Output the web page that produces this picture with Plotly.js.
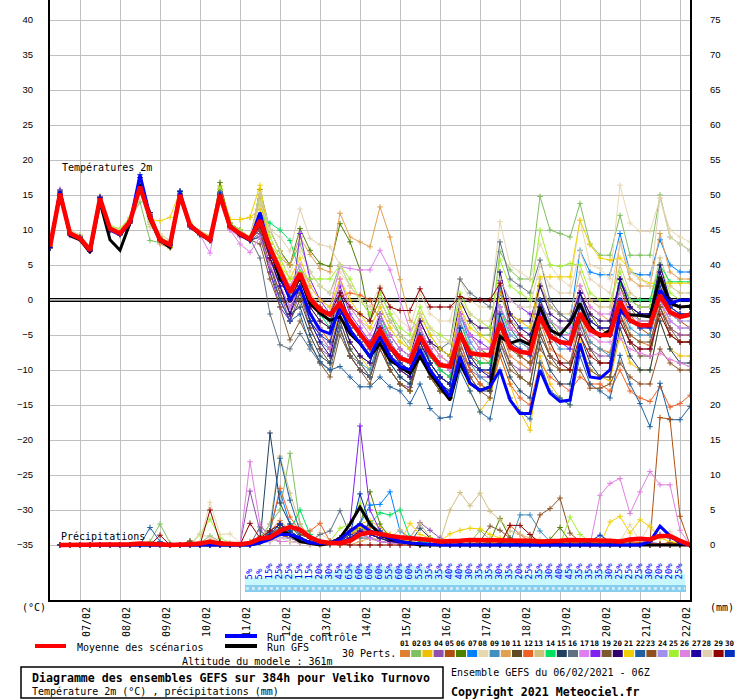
<!DOCTYPE html>
<html><head><meta charset="utf-8">
<script src="https://cdn.plot.ly/plotly-3.0.1.min.js"></script>
<style>body{margin:0;background:#fff}#chart{width:740px;height:700px}</style>
</head><body><div id="chart"></div>
<script>
// ---------- DATA ----------
const hours = [0,6,12,18,24,30,36,42,48,54,60,66,72,78,84,90,96,102,108,114,120,126,132,138,144,150,156,162,168,174,180,186,192,198,204,210,216,222,228,234,240,246,252,258,264,270,276,282,288,294,300,306,312,318,324,330,336,342,348,354,360,366,372,378,384];
const dateTicks = [18,42,66,90,114,138,162,186,210,234,258,282,306,330,354,378];
const dateLabels = ['07/02','08/02','09/02','10/02','11/02','12/02','13/02','14/02','15/02','16/02','17/02','18/02','19/02','20/02','21/02','22/02'];
const tempTicks = [-35,-30,-25,-20,-15,-10,-5,0,5,10,15,20,25,30,35,40];
const precipTicks = [0,5,10,15,20,25,30,35,40,45,50,55,60,65,70,75];
const probHours = [120,126,132,138,144,150,156,162,168,174,180,186,192,198,204,210,216,222,228,234,240,246,252,258,264,270,276,282,288,294,300,306,312,318,324,330,336,342,348,354,360,366,372,378];
const probValues = [5,5,15,25,25,15,15,20,30,45,65,60,60,60,55,60,60,55,35,35,40,40,30,35,35,30,35,20,25,35,30,40,45,35,35,35,30,25,25,25,30,20,20,25];
const memberNames = ['01','02','03','04','05','06','07','08','09','10','11','12','13','14','15','16','17','18','19','20','21','22','23','24','25','26','27','28','29','30'];
const memberColors = ['#e08030','#80c060','#f0c000','#9050b0','#b05010','#508000','#0080ff','#e8d8b0','#4090c0','#e0a050','#604c20','#f06020','#d0c080','#00e060','#204060','#607080','#e080f0','#8020f0','#805830','#300070','#f0d000','#2060a0','#905020','#a090f0','#a0f030','#e080e0','#2000a0','#e0d0b0','#900000','#0030c0'];

// Temperatures 2m (°C)
const tMean = [7.6, 15.2,9.5,8.8,7.1, 14.5,10.2,9.5,11.2, 16.2,11.9,8.6,7.9, 15,10.7,9.5,8.6, 15,10.5,9.5,8.7, 11.4,7.4,4.3,1.1, 3.8,0.2,-1.4,-2.1, -0.5,-2.9,-4.8,-6.7, -4.3,-6.7,-8.3,-8.8, -5.2,-7.6,-9.3,-9.5, -4.8,-7.6,-7.8,-7.9, -3.3,-6.7,-7.4,-7.6, -2.4,-5.2,-6,-6.2, -1.9,-4.3,-5,-5, -0.2,-2.9,-3.6,-3.6, 0.7,-1.7,-2.4,-2.1];
const tControl = [7.5, 15.5,9.3,8.8,7, 14.6,10,9.3,11, 17.9,12,8.5,7.8, 15.4,10.5,9.5,8.5, 15,10.5,9.4,8.5, 12.5,7,4,0, 1.9,-1.9,-4.3,-4.8, -1,-4.3,-6.2,-8.1, -5.2,-8.1,-9.5,-10, -7.1,-10,-11.9,-13.8, -8.1,-11.9,-12.9,-12.4, -10,-14.3,-16.2,-16.2, -10,-13.3,-14.5,-14.3, -6.2,-11,-11.2,-10, -1.4,-2.9,-3.6,-3.8, 1.4,-0.5,0,0];
const tGFS = [7.5, 15.5,9.2,8.6,6.8, 14,8.6,7.1,11, 16.5,11.5,8.5,7.5, 15,10.5,9.4,8.5, 15,10.5,9.3,8.5, 11.5,7.5,3,1.4, 3.3,-0.5,-1.9,-2.9, -2.4,-4.8,-6.2,-8.1, -6.2,-8.6,-9.5,-10.5, -8.1,-10.5,-12.4,-14.3, -9,-11.9,-12.9,-12.4, -5.2,-6.2,-5.7,-6.4, -1,-4.3,-5,-3.3, -0.5,-3.8,-5.2,-4.3, -1.4,-2.1,-2.2,-2.4, 3.3,-0.5,-1,-0.9];
const T01 = [7.5, 15,9.8,9,7.3, 14,10,9.2,11, 16.5,11.5,8.2,7.6, 14.8,10.9,9.6,8.4, 15.2,10.4,9.1,8.8, 11.5,7,3.5,0.5, 3,-1,-3,-4, -1,-4,-6,-8, -5,-8,-10,-11, -6,-9,-11,-12, -5,-9,-10,-10.5, -4,-8,-9,-10, -3,-7,-8,-9, -2,-6,-7,-7.5, -1,-5,-6,-6.5, 0,-4,-5,-5];
const T02 = [7.8, 15.5,9.6,8.6,7, 14.8,10.5,9.8,11.5, 14,8.5,8.2,8.5, 15.3,10.4,9.2,8.9, 15.5,11,10,9, 14.5,10,7,5, 8,4,2,1, 5,2,0,-2, 1,-2,-5,-7, -2,-5,-7,-8, 0,-3,-5,-5, 6.9,4.3,3,3, 14.8,10,9.5,9, 13.8,8,6.4,6.4, 12.1,6.4,6.4,6.4, 15,9,8,7.1];
const T03 = [7.6, 15,9.3,9,7.2, 14.6,10.3,9.7,11.8, 16,12,9,8.2, 15.5,11,9.8,9.2, 16.3,11.5,11.5,11.8, 13,6,3,1, 2,-2,-4,-6, -2,-6,-8,-10, -6,-10,-12,-13, -7,-11,-13,-14, -8,-13,-15.9,-14, -8,-12,-16,-18.6, -8,-12,-14,-15, -6,-10,-11,-11.5, -5,-9,-10,-10, -3,-7,-8,-8];
const T04 = [7.7, 15.8,9.2,8.9,7, 14.2,9.8,9.4,11, 16,12.3,8.6,7.8, 14.9,10.4,9.3,8.5, 15.1,10.2,9.3,8.5, 9.5,5,1,-3, 1,-4,-7,-8, -4,-8,-10,-11, -7,-10,-12,-12.5, -8,-11,-12,-13, -7,-10,-11,-11, -6,-9,-10,-10, -5,-8,-9,-9, -4,-7,-8,-8, -3,-6,-7,-7, -1,-4,-5,-5];
const T05 = [7.4, 15,9.7,9.1,7.4, 14.4,10,9.4,11.3, 16.2,12,8.4,7.5, 15,10.6,9.4,8.6, 14.9,10.5,9.6,8.5, 12,7,4,1, 3,0,-2,-3, 0,-3,-5,-6, -3,-6,-8,-9, -4,-7,-9,-10, -4,-8,-9,-9, -2,-6,-8,-9, 0,-4,-6,-6, 1,-3,-4,-5, 2,-2,-4,-5, 3,-2,-3,-4];
const T06 = [7.6, 15.2,9.5,8.7,7, 14.5,10.2,9.6,11.2, 17,12.5,9,8, 15.2,10.8,9.5,8.7, 16.8,11,10,8.5, 15.8,10,7,5, 10.2,7.1,5.2,4.8, 10.9,8.3,4.3,-3, 0,-3,-5,-6, -3,-6,-8,-9, -2,-5,-7,-8, -1,-4,-6,-7, 0,-3,-5,-5, 1,-2,-4,-4, 2,-1,-3,-3, 3,-1,-2,-2];
const T07 = [7.5, 15.3,9.4,8.8,7.1, 14.7,10.1,9.3,11.1, 16.4,11.8,8.5,7.8, 15.1,10.6,9.5,8.5, 15,10.7,9.4,8.6, 12,8,4,1, 4,0,-2,-3, 1,-3,-5,-7, -3,-7,-9,-10, -4,-8,-10,-11, -2,-6,-8,-8, 1,-3,-4,-4, 2,-1,-2,-3, 7.1,4,3.6,3.6, 9.5,4,3.6,3.6, 8.6,5,4,4];
const T08 = [7.7, 15,9.8,9.2,7.5, 14.3,10.4,9.9,11.6, 15.8,10.4,9.5,8.5, 15,10.8,9.7,8.9, 15.2,10.6,9.7,9, 15.5,10,7,4, 7,4,2,1, 4,2,0,-1, 2,-1,-3,-4, 1,-2,-3,-3, 3,0,-1,-1, 11.2,5,4,3, 8,5,3,2, 11.4,5,4.5,3, 16.4,11,9.8,9.8, 14.5,10,9,8.3];
const T09 = [7.5, 14.8,9.6,9.1,7.2, 14.4,10.1,9.6,11.3, 16.1,11.9,8.7,8, 15.3,10.5,9.3,8.7, 14.6,10.4,9.5,8.8, 10.5,6,2,-1, 1,-3,-6,-7, -3,-7,-9,-10, -5,-9,-11,-12, -6,-10,-12,-13, -5,-9,-11,-12, 2,-4,-6,-7, -2,-5,-7,-7, -3,-6,-7,-8, -1,-4,-5,-5, 0,-3,-4,-4];
const T10 = [7.8, 15.5,9.7,9,7.2, 14.7,10.3,9.6,11.2, 16,11.2,8,7.4, 15,10.8,9.6,8.6, 14.8,10.3,9.3,8.7, 14,8,6,5, 9,6.5,4.5,4, 12.4,9,8.3,7.6, 13.3,9,2.9,-2.9, -4,-8,-10,-11, -3,-7,-8,-9, -2,-4,-5,-6, 2,-1,-2,-3, 2,-1,-2,-3, 8.3,3,2,2, 9.5,4,3,3];
const T11 = [7.6, 15.1,9.4,8.9,7, 14.6,10,9.5,11, 16.3,12.2,8.8,8, 14.7,10.7,9.6,8.8, 15.3,10.8,9.4,8.5, 9,4,0,-3, 0,-4,-7,-9, -3,-7,-9,-11, -6,-10,-12,-13, -7,-11,-13,-14, -6,-10,-12,-13, -5,-9,-11,-12, -4,-8,-10,-10, -3,-7,-9,-9, -2,-6,-8,-8, -1,-5,-6,-6];
const T12 = [7.5, 15.1,9.8,9.2,7.3, 14.5,10.2,9.5,11.4, 16.1,11.7,8.5,7.9, 15.2,10.6,9.4,8.6, 15,10.5,9.6,8.7, 11,6,2,-1, 2,-2,-4,-6, 0.5,1,0.7,0, -3,-7,-9,-10, -5,-9,-11,-12, -6,-10,-12,-13, -8,-12,-14,-15, -9,-11,-12,-13, -11,-12,-12,-13, -10,-13,-14,-14.5, -12.4,-15.3,-14.8,-13.6];
const T13 = [7.9, 15.4,10,9.3,7.6, 14.2,10.4,10,11.8, 15.5,10.8,8.6,7.7, 15.2,11,9.7,8.9, 15.4,10.8,9.8,9, 15,8,5,2, 5,1,-1,-2, 3,-1,-3,-4, -1,-4,-6,-7, -3,-6,-8,-9, -1,-5,-7,-7, 1,-3,-4,-5, 3,-1,-2,-2, 4,0,-1,-1, 5,1,0,0, 6,2,1,1];
const T14 = [7.6, 15,9.5,8.9,7.1, 14.4,10.2,9.6,11.3, 16,11.6,8.5,7.7, 15.1,10.6,9.4,8.6, 15.8,10.4,9.3,8.5, 12,11,10,8.5, 4,0,-2,-4, 0,-4,-6,-8, -2,-6,-8,-9, -5,-8,-10,-11, -3,-7,-9,-9, -1,-5,-6,-7, 0,-3,-4,-5, 0,-3,-4,-4, 2.4,0,0,0, 5,2.6,2.6,2.6];
const T15 = [7.5, 15.2,9.6,9,7.2, 14.6,10.1,9.5,11.2, 16.2,11.9,8.6,7.9, 15,10.7,9.5,8.6, 15.1,10.6,9.5,8.7, 10,6,2,-2, -1,-5,-8,-9, -4,-8,-10,-11, -6,-9,-11,-12, -7,-10,-12,-13, -8,-11,-13,-13, -7,-11,-13,-14, -6,-10,-12,-12, -5,-9,-11,-11, -4,-8,-10,-10, -3,-7,-9,-9];
const T16 = [7.7, 15.4,9.5,8.9,7.2, 14.5,10.2,9.6,11.1, 16.1,11.8,8.6,7.8, 15.2,10.5,9.4,8.6, 14.7,10.6,9.6,8.8, 6,-2,-6.4,-7, -4.8,-7,-9,-10, -4,-8,-9,-11, -5,-8,-9,-10, -3,-6,-7,-6, 3,1,0,-1, 8.3,3,2,1, 5.7,0,-2,-3, 1,-3,-4,-4, 3,-1,-2,-2, 4,0,-1,-1];
const T17 = [7.6, 15,9.4,8.8,7, 14.8,10.5,9.8,11.5, 16.3,12,8.7,7.9, 14.6,10.4,9.3,6.7, 14.5,10,9,8.6, 11,7,4,2, 5,2,0,-1, 4.8,4.5,4.3,4.3, 7.1,4.3,0,-4.3, -3,-6,-8,-9, -2,-5,-7,-7, -1,-4,-5,-6, 0,-3,-4,-4, 2,-1,-2,-2, 1,-2,-3,-3, 0,-3,-4,-4];
const T18 = [7.5, 15.1,9.5,8.9,7.1, 14.6,10.1,9.5,11.3, 16.2,11.9,8.6,7.8, 15,10.7,9.5,8.6, 15.2,10.8,9.7,8.8, 10,4,-1,-3, 9.5,3,0,-2, 2,-2,-4,-6, -3,-6,-8,-9, -4,-7,-9,-10, -2,-5,-6,-7, 2.8,0,-1,-2, -2,-5,-6,-7, -1,-4,-5,-5, 3,0,-1,-1, 1,-1,-2,-2];
const T19 = [7.6, 15.2,9.6,9,7.3, 14.4,10,9.4,11.1, 16,11.8,8.5,7.8, 15.1,10.6,9.4,8.6, 15,10.5,9.4,8.6, 8,3,-1,-5.7, -3,-6,-9,-11, -5,-8,-10,-12, -7,-10,-12,-13, -8,-11,-13,-14, -7,-11,-13,-14, -6,-10,-11,-12, -5,-8,-9,-9, -7,-10,-11,-11, -2,-5,-6,-6, -1,-4,-6,-6];
const T20 = [7.5, 15,9.5,8.9,7.1, 14.5,10.1,9.5,11.2, 16.1,11.8,8.6,7.9, 15,10.6,9.5,8.6, 15,10.6,9.5,8.7, 11,7,3,0, 3,-1,-3,-4, 1,-3,-5,-7, -2,-5,-7,-8, -3,-6,-7,-8, 0,-3,-4,-4, 1,-2,-3,-3, 2,-2,-3,-3, 1,-2,-3,-3, 2.9,-1,-2,-2, 4,0,-1,-1];
const T21 = [7.7, 15.3,9.7,9.1,7.4, 14.6,10.5,10,11.7, 15.4,11.5,11.3,11.8, 15.5,10.9,9.6,8.8, 15.8,11.5,11.5,11.8, 16.4,8,5,3, 6,2,0,-1, 3,0,-2,-4, -1,-4,-6,-7, -2,-5,-7,-8, -1,-4,-5,-6, 1,-2,-3,-4, 3.3,3.3,3.3,3.3, 11.4,7.9,6,5.7, 6,4.3,3,2.4, 2.4,2.4,2.4,2.4];
const T22 = [7.4, 15,9.6,9.1,7.2, 14.5,10,9.4,11.2, 16.2,11.9,8.6,7.9, 15.2,10.8,9.6,8.6, 14.8,10.4,9.3,8.6, 9,5,0,-3, -2,-6.4,-8.8,-10, -9.5,-11,-12.4,-12.4, -11,-12.4,-13,-14.8, -12,-15.5,-16.9,-16.7, -10,-13,-16,-17, -10,-14,-16,-17, -9,-13,-14,-15, -8,-12,-13,-14, -7.9,-12,-14.8,-18.1, -11.9,-17.1,-17.1,-15.2];
const T23 = [7.6, 15.1,9.5,9,7.2, 14.6,10.2,9.5,11.2, 16.1,11.9,8.6,7.9, 15,10.7,9.5,8.7, 15.1,10.6,9.5,8.7, 10,5,1,-2, 1,-3,-5,-7, -2,-6,-8,-9, -4,-8,-10,-11, -5,-9,-11,-12, -4,-8,-10,-10, -3,-7,-8,-9, -7,-9,-10,-10, -10,-12.6,-12.6,-12, -9,-11,-12,-12, -7,-9,-10,-10];
const T24 = [7.5, 15.2,9.6,9,7.2, 14.5,10.1,9.5,11.2, 16.2,11.9,8.6,7.8, 15.1,10.6,9.5,8.6, 15,10.5,9.5,8.6, 10.5,6,2,-1, 2,-2,-4,-5, -1,-4,-6,-7, -3,-6,-8,-9, -4,-7,-9,-10, -3,-6,-8,-8, -2,-5,-6,-7, -1,-4,-5,-5, 0,-3,-4,-4, 0,-3,-4,-4, 1,-2,-3,-3];
const T25 = [7.8, 15.4,9.8,9.2,7.5, 14.4,10.6,10.2,11.8, 15.5,11,8.5,7.6, 15.3,10.9,9.7,8.9, 16,11,10,9, 14,9,6,3, 4,3,3,3, 5,3,0,-2, 1,-2,-4,-5, -1,-4,-5,-6, 1,-2,-3,-4, 5.7,2,1,0, 10,5,4.8,5.2, 5,1,0,0, 4,0,-1,-1, 5,1,0,0];
const T26 = [7.6, 15,9.4,8.9,7.1, 14.5,10.1,9.5,11.2, 16.1,11.8,8.5,7.8, 15,10.6,9.4,8.5, 14,10,8,6.8, 9,5,2,-1, 2,-2,-5,-7, 3,-1,-3,-5, -2,-5,-7,-8, -4,-7,-9,-10, -2,-5,-7,-7, -1,-4,-5,-6, -1,-4,-5,-5, -2,-5,-6,-6, -5.5,-7,-7.6,-8, -7.6,-8.5,-9,-9.5];
const T27 = [7.5, 15.6,9.4,8.8,7, 14.7,10.2,9.6,11.3, 17.5,12.5,8.6,7.8, 15.5,10.6,9.4,8.6, 15.2,10.5,9.4,8.6, 11,6,2,-2, 2,-3,-6,-8, -2,-6,-8,-9, -4,-8,-10,-11, -6,-9,-11,-12, -5,-9,-10,-11, 4,-2,-4,-5, -1,-5,-6,-6, 1,-3,-4,-4, 3,-1,-2,-2, 5,0,-1,-1];
const T28 = [7.7, 15.3,9.9,9.3,7.6, 14.2,10.4,10,11.6, 15.6,10.5,9.4,8.4, 14.8,10.9,9.8,8.9, 15.3,10.7,9.8,9, 14,10,9,7, 13,8.8,7.9,7.6, 5,2,0,-1, 0,-3,-5,-6, -2,-4,-6,-6, 0,-2,-3,-3, 3,0,-1,-1, 5,2,1,1, 7,3,2,1, 8,4,3,2, 14.6,9,8,7];
const T29 = [7.5, 15.1,9.6,9,7.2, 14.6,10.2,9.5,11.2, 16.2,11.9,8.6,7.9, 15,10.7,9.5,8.6, 15,10.5,9.4,8.6, 10.5,6,3,0, 3,0,-1,-2, 1,-1,-2,-3, 1.7,-1,-1.5,-1.5, 1.6,-1,-1,-1, 0.5,0,0,0, 2.4,-3,-5,-6, -1,-6,-9,-10, -5,-8,-9,-9, -3,-6,-7,-7, -2,-5,-6,-6];
const T30 = [7.5, 15.3,9.5,8.9,7.1, 14.6,10.2,9.6,11.2, 17.9,12,8.6,7.8, 15.6,10.7,9.5,8.6, 15.4,10.6,9.5,8.6, 11.5,7,3,0, 2,-3,-5,-6, -1,-4,-6,-8, -4,-7,-9,-10, -5,-9,-11,-12, -4,-8,-10,-10, -2,-6,-7,-8, 0,-4,-5,-6, -1,-4,-5,-5, 0,-3,-4,-4, 2,-1,-2,-2];

// Précipitations (mm per 6h)
const pMean = [0,0,0,0,0,0,0,0, 0.1,0.2,0.2,0.1,0,0,0.1,0.2, 0.5,0.2,0.1,0.1,0.3,0.9,1.1,2, 2.6,2.2,1.1,0.5,0.3,0.3,0.6,1.5, 1.8,1.5,1.3,1.1,1,0.8,0.7,0.5, 0.5,0.6,0.7,0.7,0.7,0.7,0.7,0.6, 0.6,0.5,0.5,0.6,0.7,0.7,0.7,0.7, 0.6,0.5,0.8,0.9,0.8,1.3,1.3,0.6, 0];
const pControl = [0,0,0,0,0,0,0,0, 0,0,0,0,0,0,0,0, 0,0,0,0,0,0.3,0.8,1.5, 1.5,1,0.3,0.2,0.3,0.8,2,3, 2,1.5,1,0.5,0.3,0.2,0,0, 0,0,0,0,0,0,0,0, 0,0,0,0,0,0,0,0, 0,0,0,0,0.5,2.7,1.3,0.3, 0];
const pGFS = [0,0,0,0,0,0,0,0, 0,0,0,0,0,0,0,0, 0,0,0,0,0,0.3,1,2.1, 1.5,0.5,0.2,0,0.2,1,3,5.4, 3,1.5,0.8,0.5,0.2,0,0,0, 0,0,0,0,0,0,0,0, 0,0,0,0,0,0,0,0, 0,0,0,0,0,0,0,0, 0];
const P01 = [0,0,0,0,0,0,0,0, 0,0,0,0,0,0,0,0.2, 0.3,0,0,0,0.5,1.2,2,3.5, 2,1,0.5,0,0.3,0.8,1.5,3, 2.5,2,1.5,1,0.5,0.3,0.2,0.1, 0,0,0,0.2,0.4,0.6,0.3,0, 0,0,0.2,0.3,0.5,0.3,0.2,0.1, 0,0.2,0.4,0.3,0.2,0.1,0.4,0.2, 0];
const P02 = [0,0,0,0,0,0,0,0, 0,0,0.5,3,0.3,0,0,0.3, 1.3,0.5,0,0,0.4,1,3,5, 13.1,3,1,0.5,0.2,0.5,1,2.5, 2,1.5,1,0.5,0.2,0,0,0, 0,0,0.3,2.1,0.8,0.3,0.1,0, 0,0,0,0,0,0,0.2,0.1, 0,0,0,0,0,0,0,0, 0];
const P03 = [0,0,0,0,0,0,0,0, 0,0,0,0,0,0,0,0, 0,0,0,0,0.3,0.8,1.2,2, 1.5,1,0.5,0.2,0.5,1,2,3, 3.5,2.5,1.5,1,0.5,0.3,0.2,0, 0,0,0,0,0.3,0.5,0.2,0, 0,0,0.2,0.5,0.3,0.1,0,0, 0,0,0,0,0,0,0,0, 0];
const P04 = [0,0,0,0,0,0,0,0, 0,0,0,0,0,0,0,0, 0,0,0,0,7.7,2,1,0.5, 0.5,0.3,0.2,0.2,0.5,1,1.5,2, 2,1.5,1,0.8,1,3.2,2.1,1, 0.5,0.3,0,0,0,0,0,0, 0,0,0,0,0,0.3,0.5,0.3, 0.2,0.5,0.8,0.5,0.3,0.2,0.1,0, 0];
const P05 = [0,0,0,0,0,0,0,0, 0,0,0,0,0,0,0,0, 0,0,0,0,0,0.5,1,1.5, 1,0.5,0.2,0,0.3,0.5,1,2, 1.5,1,0.5,0.3,0.2,0,0,0, 0,0,0,0,0,0,0,0, 0,0,0,0,0.2,0.3,0.2,0.1, 0,0,0.1,0.2,0.5,18.2,18,4.1, 0];
const P06 = [0,0,0,0,0,0,0,0, 0,0,0,0,0,0,0,0, 0,0,0,0,0,0.5,1,2, 1.5,1,0.5,0.2,0,0.5,1.5,3, 7.6,3,1,0.5,0.3,0.2,0,0, 0,0,0,0,0.5,3.8,1,0.3, 0,0.3,0.8,2.5,0.5,0,0,0, 0,0,0,0,0,0,0,0, 0];
const P07 = [0,0,0,0,0,0,0,0, 0,0,0,0,0,0,0,0, 0,0,0,0,0,0.5,2,7.6, 3,1,0.5,0.3,0.5,1,2,3, 5.7,5.8,7.6,2,1,0.5,0.2,0, 0,0,0,0,0,0,0,0, 0,0,0,0,0,0,0,0, 0,0,0,0,0,0,0,0, 0];
const P08 = [0,0,0,0,0,0,0,0, 0,0,0,0,0,0,0,0.5, 6.1,1.5,1.6,0.3,0.2,0.5,1,1.5, 1,0.5,0.3,1.8,0.5,0.3,0.5,1, 0.8,0.5,0.3,0.2,0,0,0,0, 0,0,0,0,0,0,0,0, 0,0,0,0,0,0,0,0, 0,0.5,2.9,0.5,3,1,1.9,0.5, 0];
const P09 = [0,0,0,0,0,0,0,0, 0,0,0,0,0,0,0,0, 0,0,0,0,0,0.5,2,3, 2,1,0.5,0.2,0,0.5,1,1.5, 1,0.5,0.3,0.2,0,0,0,0, 0,0,0,0,0,0,0.2,4.3, 4.3,2,0.5,0.2,0,0,0,0, 0,0,0,0,0,0,0,0, 0];
const P10 = [0,0,0,0,0,0,0,0, 0,0,0,0,0,0,0,0, 0,0,0,0,0,0.3,1,2, 1.5,0.5,0,0,0,0,0,0.5, 1,0.5,0.3,0.2,0,0,0,0, 0,0,0,0,0,0,0,0, 0,0,0,0,0,0,0,0, 0,0,0,0,0,0,0,0, 0];
const P11 = [0,0,0,0,0,0,0,0, 0,0,0,0,0,0,0.6,0, 0,0,0,0,0,0.8,1.5,2.5, 2,1,0.5,0.3,0.5,1,2,2.5, 2,1.5,1,0.5,0.3,0.2,0,0, 0,0,0,0,0,0,0,0, 0,0,0,0,0,0,0,0, 0,0,0,0,0,0,0.3,0.2, 0];
const P12 = [0,0,0,0,0,0,0,0, 0,0,0,0,0,0,0,0, 0,0,0,0,0,0.5,2,8.1, 4,2,2,3.1,0.5,0.8,1.5,2, 2,1.5,1,0.5,0.3,0.2,0.2,0, 0,0,0,0,0,0,2.8,1.5, 0.5,0.3,0.2,0.2,0.3,0.5,0.3,0.2, 0.2,0.3,0.5,0.3,0.2,0.1,0.2,0.3, 0];
const P13 = [0,0,0,0,0,0,0,0, 0,0,0,0,0,0,0,0, 0,0,0,0,0,0.5,3,12.7, 7.4,3,1,0.5,0.3,0.5,0.8,1.5, 1,0.8,1,2.2,1,3.1,1,0.5, 5,7.5,5.6,7.4,4.8,3.6,2,1.5, 1,0.8,0.5,0.3,0.2,0.2,0.3,0.2, 0,0,0,0,0,0,0,0, 0];
const P14 = [0,0,0,0,0,0,0,0, 0,0,0,0,0,0,0,0, 0,0,0,0,0,0.3,0.8,1.5, 2,5,1.5,0.5,0.3,0.5,1,2, 3,4.6,4.3,5,1,0.5,0.2,0, 0,0,0,0,0,0,0,0, 0,0,0,0,0,0,0,0, 0,0,0,0,0,0,0,0, 0];
const P15 = [0,0,0,0,0,0,0,0, 0,0,0,0,0,0,0,0, 0,0,0,0,0,0.5,16,6, 3,1.5,1,0.5,0.3,0.5,1,2, 3,1.5,1,0.5,0.3,2.4,1,0.5, 0,0,0,0,0,0,0,0, 0,0,0,0,0,0,0,0, 0,0,0,0,0,0,0,0, 0];
const P16 = [0,0,0,0,0,0,0,0, 0,0,0,0,0,0,0,0, 0,0,0,0,0,2.6,1.5,3, 2,1,0.5,1.5,2,4.9,1.5,1, 1,0.5,0.3,0.2,0,0,0,0, 0,0,0,0,0,0,0,0, 0,0,0,0,0,0,0,0, 0,0,0,0,0,0,0,0, 0];
const P17 = [0,0,0,0,0,0,0,0, 0,0,0,0,0,0,0,0, 0,0,0,0,0,0.3,0.5,1, 1.5,1,0.5,0.3,0.2,0.5,1,2, 1.5,1,0.5,0.3,0.2,0,0,0, 0,0,0,0,0,0,0,0, 0,0,0,0,0,0,0,0, 0,0,0,0,0,0,0,0, 0];
const P18 = [0,0,0,0,0,0,0,0, 0,0,0,0,0,0,0,0, 0,0,0,0,0,0.3,0.8,1.5, 1,0.5,0.3,0.2,0.5,1,3,17, 5,2,1,0.5,0.3,0.2,0,0, 0,0,0,0,0,0,0,0, 0,0,0,0,0,0,0,0, 0,0,0,0,0,0,0,0, 0];
const P19 = [0,0,0,0,0,0,0,0, 0,0,0,0,0,0,0.5,0, 0,0,0,0,0,0.5,1,2, 2.5,1.5,1,0.5,0.3,0.5,1.5,2.5, 2,1.5,1,0.5,0.3,0.2,0.2,0, 0,0,0,0.5,2.7,2.1,1,0.5, 0,0,0,0,0,0,0,0, 0,0,0,0,0,0,0,0, 0];
const P20 = [0,0,0,0,0,0,0,0, 0,0,0,0,0,0,0,0, 0,0,0,0,0,0.5,1,1.5, 1,0.5,0.3,0.2,0.3,0.5,1,2, 1.5,1,0.5,0.3,0.2,0,0,0, 0,0,0,0,0,0,0,0.3, 0.5,0.3,0.2,0.1,0,0,0,0, 0,0,0,0,0,0,0,0, 0];
const P21 = [0,0,0,0,0,0,0,0, 0,0,0,0,0,0,0,0, 0,0,0,0,0,0.3,0.8,1.5, 1,0.5,0.3,0.2,0.3,0.8,1.5,2.5, 2,1.5,1,0.5,3.1,1.5,1,0.5, 1.6,2.1,2.4,2.3,1.5,1,0.5,0.3, 0.2,0,0,0,0,0,0,0, 3.3,4.1,1.7,3.6,2.6,1,0.5,0.2, 0];
const P22 = [0,0,0,0,0,0,0,0, 0,0,2.5,0.5,0,0,0,0, 0,0,0,0,0,0.5,2,12.4, 6.4,2,1,0.5,0.3,0.5,1,2, 1.5,1,0.5,0.3,0.2,0,0,0, 0,0,0,0,0,0,0,0, 0,0,0,0,0,0,0,0, 0,0,0,0,0,0,0,0, 0];
const P23 = [0,0,0,0,0,0,0,0, 0,0,0,0,0,0,0,0, 0,0,0,0,0,0.3,0.8,1.5, 1,0.5,0.3,0.2,0.3,0.5,1,2, 1.5,1,0.5,0.3,0.2,0,0,0, 0,0,0,0,0,0.3,0.5,0.3, 0.5,4.3,5.2,6.7,1.7,0.5,0.3,0.2, 0,0,0,0,0,0,0,0, 0];
const P24 = [0,0,0,0,0,0,0,0, 0,0,0,0,0,0,0,0, 0,0,0,0,0,0.3,0.5,1, 1,0.5,0.3,0.2,0.3,0.5,1,1.5, 1,0.5,0.3,0.2,0,0,0,0, 0,0,0,0,0,0,0,0, 0,0,0,0,0,0,0,0, 0,0,0,0,0,0,0,0, 0];
const P25 = [0,0,0,0,0,0,0,0, 0,0,0,0,0,0,0,1.5, 3.7,1,0.3,0,0,0.3,1,2, 1.5,1,0.5,0.3,0.5,2.4,3,6, 3,1.5,1,0.5,0.3,0.2,0,0, 0,0,0,0,0,0,0,0, 0,0,0,0,4,1.5,0.5,0.2, 0,0,0,0,0,0,0,0, 0];
const P26 = [0,0,0,0,0,0,0,0, 0,0,0,0,0,0,0,0, 0,0,0,0,11.9,3,1,0.5, 0.5,0.3,0.2,0.2,0.3,0.5,1,2, 1,0.5,0.3,0.2,0,0,0,0, 0,0,0,0,0,0,0,0, 0,0,0,0,0,0,0,7.1, 8.8,9.5,4.5,7.6,10.5,8.6,8.6,2.1, 0];
const P27 = [0,0,0,0,0,0,0,0, 0,0,0,0,0,0,0,0, 0,0,0,0,0,0.5,1,2, 1.5,1,0.5,0.3,0.3,0.5,1,2, 1.5,1,0.5,0.3,0.2,0,0,0, 0,0,0,0,0,0,0,0, 0,0,0,0,0,0,0,0, 0,0,0,0,0,0,0,0, 0];
const P28 = [0,0,0,0,0,0,0,0, 0,0,0,0,0,0,0,1.7, 1,0.5,0.3,0,0,0.3,0.5,1, 0.5,0.3,0.2,0,0,0,0,0, 0,0,0,0,0,0,0,0, 0,0,0,0,0,0,0,0, 0,0,0,0,0,0,0,0, 0,0,0,0,0,0,0,0, 0];
const P29 = [0,0,0,0,0,0,0,0, 0,0,0,1.4,0,0,0,0, 5,0.5,0,0,3.1,1,2,3, 1.5,1,0.5,0.3,0.2,0,0,0, 0,0,0,0,0,0,0,0, 0,0,0,0,0,0,2.8,2.8, 1.5,0.3,0.2,0,0,0,0,0, 0,0,0,0,0,0,0,0, 0];
const P30 = [0,0,0,0,0,0,0,0, 0,0,0,0,0,0,0,0, 0,0,0,0,0,0.5,1.5,3, 2,1,0.5,0.3,0.2,0.5,1.5,7.3, 3,2,1,0.5,0.3,0.2,0,0, 0,0,0,0,0,0,0,0, 0,0,0,0,0,0,0.5,1.4, 0.5,0,0,0,0.5,1.5,1,0.3, 0];

// ---------- BUILD ----------
const tMembers = [T01,T02,T03,T04,T05,T06,T07,T08,T09,T10,T11,T12,T13,T14,T15,T16,T17,T18,T19,T20,T21,T22,T23,T24,T25,T26,T27,T28,T29,T30];
const pMembers = [P01,P02,P03,P04,P05,P06,P07,P08,P09,P10,P11,P12,P13,P14,P15,P16,P17,P18,P19,P20,P21,P22,P23,P24,P25,P26,P27,P28,P29,P30];
const bad = [];
[tMean,tControl,tGFS,pMean,pControl,pGFS].concat(tMembers,pMembers).forEach((a,i)=>{ if(a.length!==hours.length) bad.push(i+':'+a.length); });
if (bad.length) throw new Error('length mismatch ' + bad.join(','));

const PX = 7; // pixels per °C (fixed chart scale)
const yTop = 300/PX, yBot = -300/PX;
const mmOffset = 35; // precipitation 0 mm sits at -35 °C
const precipHours = hours.slice(1);
const mono = 'DejaVu Sans Mono';

const traces = [];
const bandBase = -285/PX;
traces.push({type:'bar', x:probHours, y:probValues.map(p => (6 + 0.22*p)/PX), base:bandBase, width:6,
  marker:{color:'#c8f7fd', line:{width:0}}, hoverinfo:'skip', yaxis:'y'});

for (let i = 0; i < 30; i++) {
  const c = memberColors[i];
  traces.push({x:precipHours, y:pMembers[i].slice(1), yaxis:'y2', mode:'lines+markers',
    line:{color:c, width:1}, marker:{symbol:'cross-thin', size:4, line:{width:1, color:c}}});
}
for (let i = 0; i < 30; i++) {
  const c = memberColors[i];
  traces.push({x:hours, y:tMembers[i], yaxis:'y', mode:'lines+markers',
    line:{color:c, width:1}, marker:{symbol:'cross-thin', size:4, line:{width:1, color:c}}});
}
traces.push({x:precipHours, y:pGFS.slice(1), yaxis:'y2', mode:'lines', line:{color:'#000000', width:3}});
traces.push({x:hours, y:tGFS, yaxis:'y', mode:'lines', line:{color:'#000000', width:3}});
traces.push({x:precipHours, y:pControl.slice(1), yaxis:'y2', mode:'lines', line:{color:'#0000ff', width:3}});
traces.push({x:hours, y:tControl, yaxis:'y', mode:'lines', line:{color:'#0000ff', width:3}});
traces.push({x:precipHours, y:pMean.slice(1), yaxis:'y2', mode:'lines', line:{color:'#ff0000', width:4.5}});
traces.push({x:hours, y:tMean, yaxis:'y', mode:'lines', line:{color:'#ff0000', width:4.5}});

const px = v => (v - 50) / 640;
const py = v => (600 - v) / 600;

const annotations = [];
const note = (x, y, text, opts = {}) => annotations.push(Object.assign({
  x: px(x), y: py(y), xref:'paper', yref:'paper', text, showarrow:false,
  xanchor:'left', yanchor:'middle', font:{family:mono, size:10, color:'#000'}
}, opts));

annotations.push({x:6, y:(300-167)/PX, xref:'x', yref:'y', text:'Températures 2m', showarrow:false,
  xanchor:'left', yanchor:'middle', font:{family:mono, size:10, color:'#000'}});
annotations.push({x:5.4, y:(300-536)/PX, xref:'x', yref:'y', text:'Précipitations', showarrow:false,
  xanchor:'left', yanchor:'middle', font:{family:mono, size:10, color:'#000'}});
probHours.forEach((h, i) => annotations.push({x:h - 1.2, y:(300-582)/PX, xref:'x', yref:'y',
  text: probValues[i] + '%', textangle:-90, showarrow:false, xanchor:'center', yanchor:'bottom',
  font:{family:mono, size:9, color:'#0000ff'}}));

note(20, 607, '(°C)');
note(708, 607, '(mm)');
note(75, 647, 'Moyenne des scénarios');
note(265, 637, 'Run de contrôle');
note(265, 647, 'Run GFS');
note(340, 653, '30 Perts.');
note(180, 661, 'Altitude du modele : 361m');
note(30, 678, '<b>Diagramme des ensembles GEFS sur 384h pour Veliko Turnovo</b>', {font:{family:mono, size:11.6, color:'#000'}});
note(30, 691, 'Température 2m (°C) , précipitations (mm)');
note(449, 672, 'Ensemble GEFS du 06/02/2021 - 06Z');
note(449, 692, '<b>Copyright 2021 Meteociel.fr</b>', {font:{family:mono, size:11.6, color:'#000'}});
memberNames.forEach((n, i) => note(405 + 11.2*i, 643.5, '<b>' + n + '</b>',
  {xanchor:'center', font:{family:mono, size:7.5, color:'#000'}}));

const shapes = [
  {type:'line', xref:'x', yref:'y', x0:0, x1:384, y0:0.2, y1:0.2, line:{color:'#000', width:1.3}, layer:'between'},
  {type:'line', xref:'x', yref:'y', x0:0, x1:384, y0:-0.2, y1:-0.2, line:{color:'#000', width:1.3}, layer:'between'},
  {type:'rect', xref:'x', yref:'y', x0:117, x1:381.6, y0:(300-585)/PX, y1:(300-592)/PX, line:{width:0}, fillcolor:'#86cdee', layer:'above'},
  {type:'line', xref:'x', yref:'y', x0:117.5, x1:381, y0:(300-588.5)/PX, y1:(300-588.5)/PX, line:{color:'#c9ecfb', width:3, dash:'dot'}, layer:'above'},
  {type:'line', xref:'paper', yref:'paper', x0:px(35), x1:px(66), y0:py(646), y1:py(646), line:{color:'#ff0000', width:4}},
  {type:'line', xref:'paper', yref:'paper', x0:px(225), x1:px(257), y0:py(636), y1:py(636), line:{color:'#0000ff', width:4}},
  {type:'line', xref:'paper', yref:'paper', x0:px(225), x1:px(257), y0:py(646), y1:py(646), line:{color:'#000000', width:4}},
  {type:'rect', xref:'paper', yref:'paper', x0:px(21), x1:px(443), y0:py(667), y1:py(698), line:{color:'#000', width:1.5}, fillcolor:'rgba(0,0,0,0)'}
];
memberColors.forEach((c, i) => shapes.push({type:'rect', xref:'paper', yref:'paper',
  x0:px(400 + 11.2*i), x1:px(410 + 11.2*i), y0:py(650), y1:py(657), line:{width:0}, fillcolor:c}));

const layout = {
  width:740, height:700, margin:{l:50, r:50, t:0, b:100},
  paper_bgcolor:'#ffffff', plot_bgcolor:'#ffffff', showlegend:false, bargap:0, barmode:'overlay',
  xaxis:{range:[0,384], tickvals:dateTicks, ticktext:dateLabels, tickangle:-90, ticks:'',
    tickfont:{family:mono, size:10, color:'#000'}, ticklabelshift:7, ticklabelstandoff:1,
    showgrid:true, gridcolor:'#c0c0c0', gridwidth:1, zeroline:false,
    showline:true, linecolor:'#000', linewidth:2, fixedrange:true},
  yaxis:{range:[yBot, yTop], tickvals:tempTicks, ticks:'',
    tickfont:{family:'Liberation Sans', size:9.5, color:'#000'}, ticklabelstandoff:13,
    showgrid:true, gridcolor:'#c0c0c0', gridwidth:1, zeroline:false,
    showline:true, linecolor:'#000', linewidth:2, fixedrange:true},
  yaxis2:{overlaying:'y', side:'right', range:[yBot + mmOffset, yTop + mmOffset], tickvals:precipTicks, ticks:'',
    tickfont:{family:'Liberation Sans', size:9.5, color:'#000'}, ticklabelstandoff:16,
    showgrid:false, zeroline:false, showline:true, linecolor:'#000', linewidth:2, fixedrange:true},
  annotations, shapes
};

Plotly.newPlot('chart', traces, layout, {staticPlot:true, displayModeBar:false});
</script>
</body></html>
